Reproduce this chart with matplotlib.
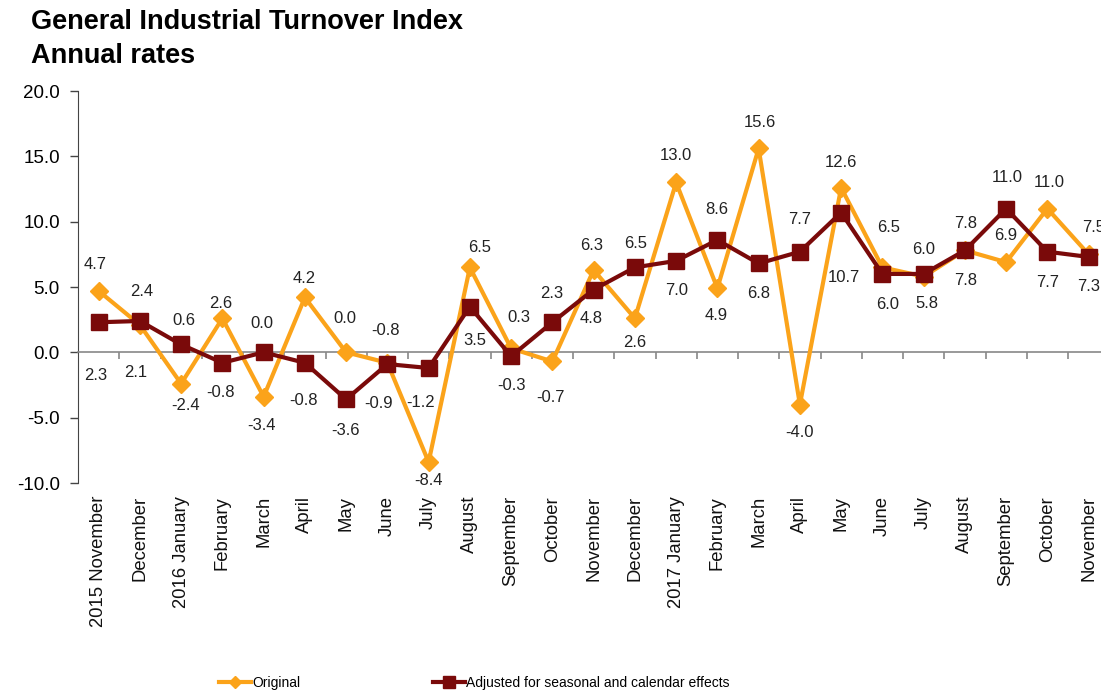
import matplotlib
matplotlib.use("Agg")
import matplotlib.pyplot as plt
from matplotlib.transforms import blended_transform_factory

plt.rcParams['font.family'] = ['Liberation Sans', 'DejaVu Sans']

# Data
months = ['2015 November', 'December', '2016 January', 'February', 'March', 'April',
          'May', 'June', 'July', 'August', 'September', 'October', 'November',
          'December', '2017 January', 'February', 'March', 'April', 'May', 'June',
          'July', 'August', 'September', 'October', 'November']
original = [4.7, 2.1, -2.4, 2.6, -3.4, 4.2, 0.0, -0.8, -8.4, 6.5, 0.3, -0.7, 6.3,
            2.6, 13.0, 4.9, 15.6, -4.0, 12.6, 6.5, 5.8, 7.8, 6.9, 11.0, 7.5]
adjusted = [2.3, 2.4, 0.6, -0.8, 0.0, -0.8, -3.6, -0.9, -1.2, 3.5, -0.3, 2.3, 4.8,
            6.5, 7.0, 8.6, 6.8, 7.7, 10.7, 6.0, 6.0, 7.8, 11.0, 7.7, 7.3]

# label offsets in pixels (dx, dy)
orig_off = [(-3, 26), (-4, -48), (4, -22), (-2, 15), (-2, -29), (-1, 19), (-1, 34),
            (-2, 32), (0, -18), (10, 20), (8, 31), (-2, -36), (-2, 25), (0, -24),
            (0, 27), (-1, -27), (1, 26), (0, -28), (0, 25), (6, 40), (3, -27),
            (1, 27), (0, 27), (2, 26), (5, 27)]
adj_off = [(-3, -53), (2, 29), (3, 24), (-2, -30), (-2, 29), (-1, -38), (-1, -31),
           (-9, -39), (-8, -34), (5, -34), (0, -29), (-1, 29), (-2, -29), (1, 24),
           (0, -30), (-1, 30), (0, -30), (0, 32), (3, -65), (5, -31), (0, 24),
           (1, -30), (1, 31), (0, -31), (0, -30)]

ORANGE = '#FBA31A'
DARKRED = '#7A0A0A'

fig = plt.figure(figsize=(11.01, 6.93), dpi=100)
W, H = 1101, 693
ax = fig.add_axes([78 / W, 1 - 483 / H, (25 * 41.25) / W, (483 - 91) / H])
ax.patch.set_alpha(0)

x = list(range(len(months)))
l1, = ax.plot(x, original, color=ORANGE, lw=3, marker='D', ms=9, label='Original', zorder=3)
l2, = ax.plot(x, adjusted, color=DARKRED, lw=3, marker='s', ms=12,
              label='Adjusted for seasonal and calendar effects', zorder=4)

for i in x:
    ax.annotate(f'{original[i]:.1f}', (i, original[i]), xytext=orig_off[i],
                textcoords='offset pixels', ha='center', va='center', fontsize=12,
                color='#222222', zorder=5)
    ax.annotate(f'{adjusted[i]:.1f}', (i, adjusted[i]), xytext=adj_off[i],
                textcoords='offset pixels', ha='center', va='center', fontsize=12,
                color='#222222', zorder=5)

ax.set_xlim(-0.5, len(months) - 0.5)
ax.set_ylim(-10, 20)
ax.set_yticks([-10, -5, 0, 5, 10, 15, 20])
ax.set_yticklabels([f'{v:.1f}' for v in [-10, -5, 0, 5, 10, 15, 20]], fontsize=13.5)
ax.tick_params(axis='y', length=6, width=1, pad=7, color='#444444')

for s in ['top', 'right']:
    ax.spines[s].set_visible(False)
ax.spines['left'].set_color('#444444')
ax.spines['bottom'].set_position(('data', 0))
ax.spines['bottom'].set_color('#888888')
ax.spines['bottom'].set_linewidth(1.2)
ax.set_xticks([i + 0.5 for i in x])
ax.set_xticklabels([])
ax.tick_params(axis='x', length=5, width=1.2, color='#888888')

# category labels below the plot area
trans = blended_transform_factory(ax.transData, ax.transAxes)
for i, m in enumerate(months):
    ax.text(i, -0.033, m, transform=trans, rotation=90, ha='center', va='top',
            fontsize=13.3, color='#111111')

fig.text(31 / W, 1 - 22 / H, 'General Industrial Turnover Index', fontsize=19.5,
         fontweight='bold', va='center', ha='left')
fig.text(31 / W, 1 - 56 / H, 'Annual rates', fontsize=19.5,
         fontweight='bold', va='center', ha='left')

leg_font = {'family': ['Liberation Sans Narrow', 'Liberation Sans'], 'size': 10}
leg1 = fig.legend(handles=[l1], loc='center left', bbox_to_anchor=(213 / W, 1 - 683 / H),
                  frameon=False, handlelength=2.3, handletextpad=0.1,
                  markerscale=0.7, prop=leg_font, borderaxespad=0)
leg2 = fig.legend(handles=[l2], loc='center left', bbox_to_anchor=(427 / W, 1 - 683 / H),
                  frameon=False, handlelength=2.3, handletextpad=0.1,
                  markerscale=0.7, prop=leg_font, borderaxespad=0)

fig.savefig('out.png', dpi=100)
